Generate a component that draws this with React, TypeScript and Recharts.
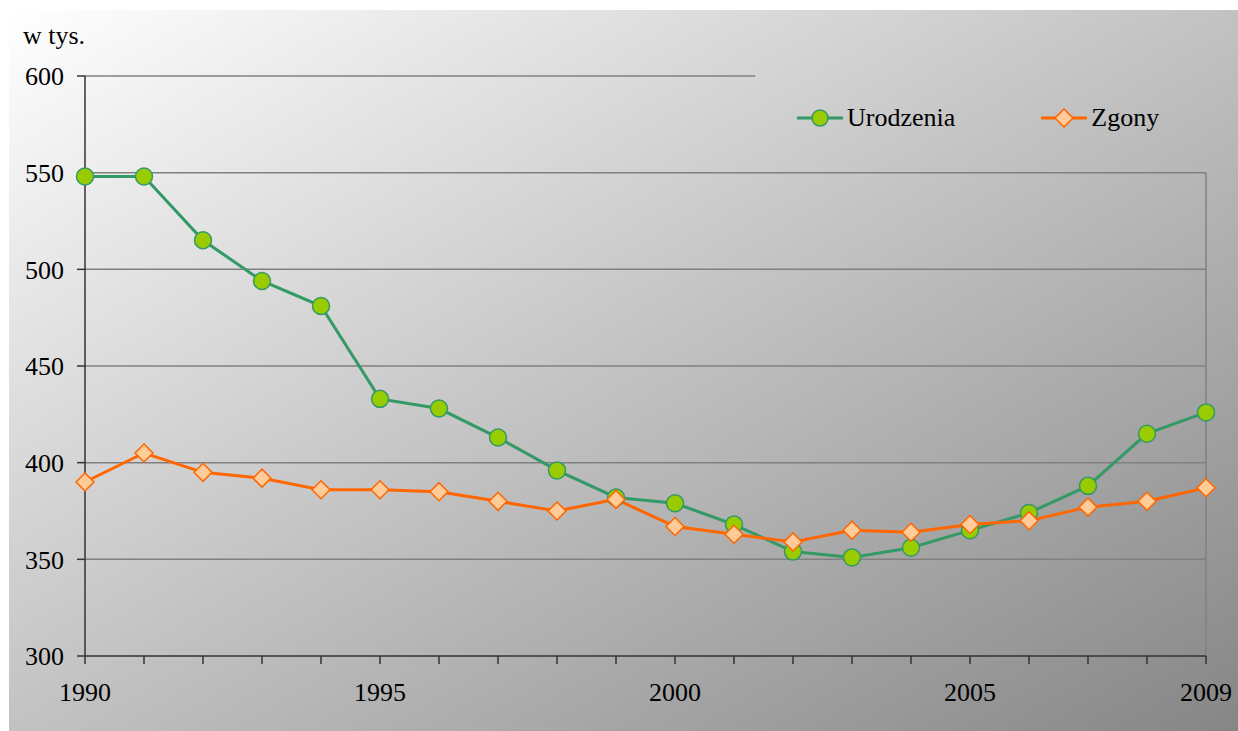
import React from "react";
import { LineChart, Line, XAxis, YAxis, CartesianGrid, ReferenceLine } from "recharts";

const years = [1990, 1991, 1992, 1993, 1994, 1995, 1996, 1997, 1998, 1999, 2000, 2001, 2002, 2003, 2004, 2005, 2006, 2007, 2008, 2009];
const urodzenia = [548, 548, 515, 494, 481, 433, 428, 413, 396, 382, 379, 368, 354, 351, 356, 365, 374, 388, 415, 426];
const zgony = [390, 405, 395, 392, 386, 386, 385, 380, 375, 381, 367, 363, 359, 365, 364, 368, 370, 377, 380, 387];
const yTicks = [300, 350, 400, 450, 500, 550, 600];
const xLabelYears = [1990, 1995, 2000, 2005, 2009];

const data = years.map((y, i) => ({ year: y, Urodzenia: urodzenia[i], Zgony: zgony[i] }));

const FONT = '"Liberation Serif", "Times New Roman"';
const GREEN_LINE = "#339966";
const GREEN_FILL = "#99CC00";
const ORANGE_LINE = "#FF6600";
const ORANGE_FILL = "#FFCC99";

const Diamond = (props: any) => {
  const { cx, cy } = props;
  if (cx == null || cy == null) return null;
  const r = 9;
  return (
    <path
      d={`M${cx},${cy - r} L${cx + r},${cy} L${cx},${cy + r} L${cx - r},${cy} Z`}
      fill={ORANGE_FILL}
      stroke={ORANGE_LINE}
      strokeWidth={1.5}
    />
  );
};

const Circle = (props: any) => {
  const { cx, cy } = props;
  if (cx == null || cy == null) return null;
  return <circle cx={cx} cy={cy} r={8.5} fill={GREEN_FILL} stroke={GREEN_LINE} strokeWidth={1.5} />;
};

export default function App() {
  return (
    <div style={{ position: "fixed", left: 8, top: 8, width: 1230, height: 723, fontFamily: FONT }}>
      <div
        style={{
          position: "absolute",
          left: 1,
          top: 2,
          width: 1229,
          height: 721,
          background: "linear-gradient(to bottom right, #ffffff 0%, #c2c2c2 50%, #868686 100%)",
        }}
      />
      <div style={{ position: "absolute", left: 0, top: 0 }}>
        <LineChart width={1230} height={723} data={data} margin={{ top: 68, right: 32, bottom: 0, left: 0 }} style={{ fontFamily: FONT }}>
          <CartesianGrid
            vertical={false}
            stroke="#808080"
            strokeWidth={1.5}
            horizontalValues={[350, 400, 450, 500, 550]}
          />
          <ReferenceLine
            segment={[
              { x: 1990, y: 600 },
              { x: 2001.36, y: 600 },
            ]}
            stroke="#808080"
            strokeWidth={1.5}
          />
          <ReferenceLine
            segment={[
              { x: 2009, y: 300 },
              { x: 2009, y: 550 },
            ]}
            stroke="#808080"
            strokeWidth={1.5}
          />
          <XAxis
            dataKey="year"
            type="number"
            domain={[1990, 2009]}
            ticks={years}
            interval={0}
            height={75}
            tickSize={8}
            tickMargin={19}
            stroke="#333333"
            strokeWidth={1.5}
            tick={{ fill: "#000", fontSize: 26, fontFamily: FONT }}
            tickFormatter={(v: number) => (xLabelYears.includes(v) ? String(v) : "")}
          />
          <YAxis
            type="number"
            domain={[300, 600]}
            ticks={yTicks}
            width={77}
            tickSize={8}
            tickMargin={13}
            stroke="#333333"
            strokeWidth={1.5}
            tick={{ fill: "#000", fontSize: 26, fontFamily: FONT }}
          />
          <Line
            dataKey="Urodzenia"
            stroke={GREEN_LINE}
            strokeWidth={3}
            dot={<Circle />}
            activeDot={false}
            isAnimationActive={false}
          />
          <Line
            dataKey="Zgony"
            stroke={ORANGE_LINE}
            strokeWidth={3}
            dot={<Diamond />}
            activeDot={false}
            isAnimationActive={false}
          />
        </LineChart>
      </div>
      <div
        style={{
          position: "absolute",
          left: 15,
          top: 13,
          fontSize: 26,
          lineHeight: "30px",
          color: "#000",
        }}
      >
        w tys.
      </div>
      <div
        style={{
          position: "absolute",
          left: 789,
          top: 95,
          display: "flex",
          alignItems: "center",
          fontSize: 26,
          lineHeight: "30px",
          color: "#000",
        }}
      >
        <svg width={46} height={20} style={{ display: "block" }}>
          <line x1={0} y1={10} x2={46} y2={10} stroke={GREEN_LINE} strokeWidth={3} />
          <circle cx={23} cy={10} r={8} fill={GREEN_FILL} stroke={GREEN_LINE} strokeWidth={1.5} />
        </svg>
        <span style={{ marginLeft: 4 }}>Urodzenia</span>
        <svg width={46} height={20} style={{ display: "block", marginLeft: 86 }}>
          <line x1={0} y1={10} x2={46} y2={10} stroke={ORANGE_LINE} strokeWidth={3} />
          <path d="M23,1 L32,10 L23,19 L14,10 Z" fill={ORANGE_FILL} stroke={ORANGE_LINE} strokeWidth={1.5} />
        </svg>
        <span style={{ marginLeft: 4 }}>Zgony</span>
      </div>
    </div>
  );
}
